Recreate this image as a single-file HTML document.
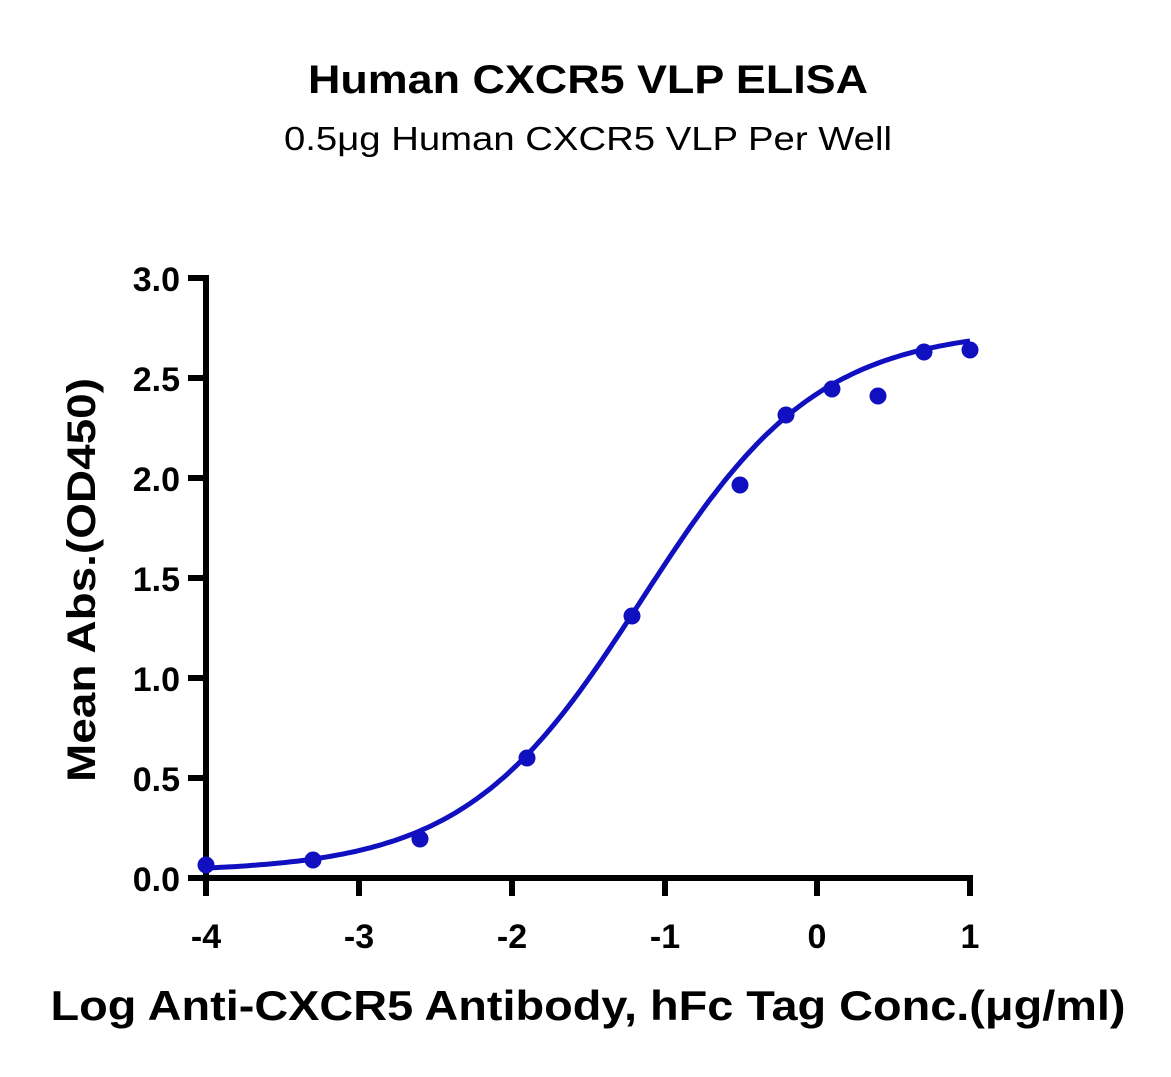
<!DOCTYPE html>
<html><head><meta charset="utf-8"><style>
body{margin:0;background:#fff;}
svg{display:block;}
text{font-family:"Liberation Sans",sans-serif;fill:#000;}
</style></head><body>
<svg id="s" width="1171" height="1077" xmlns="http://www.w3.org/2000/svg">
<text x="588" y="93" font-size="40" font-weight="bold" text-anchor="middle" textLength="560" lengthAdjust="spacingAndGlyphs">Human CXCR5 VLP ELISA</text>
<text x="588" y="150" font-size="33" text-anchor="middle" textLength="608" lengthAdjust="spacingAndGlyphs">0.5μg Human CXCR5 VLP Per Well</text>
<g stroke="#000" stroke-width="6" fill="none">
<line x1="206" y1="275" x2="206" y2="896"/>
<line x1="188" y1="878" x2="973" y2="878"/>
<line x1="188" y1="778" x2="206" y2="778"/>
<line x1="188" y1="678" x2="206" y2="678"/>
<line x1="188" y1="578" x2="206" y2="578"/>
<line x1="188" y1="478" x2="206" y2="478"/>
<line x1="188" y1="378" x2="206" y2="378"/>
<line x1="188" y1="278" x2="206" y2="278"/>
<line x1="359" y1="878" x2="359" y2="896"/>
<line x1="512" y1="878" x2="512" y2="896"/>
<line x1="665" y1="878" x2="665" y2="896"/>
<line x1="817" y1="878" x2="817" y2="896"/>
<line x1="970" y1="878" x2="970" y2="896"/>
</g>
<g font-size="34" font-weight="bold" text-anchor="end">
<text x="180" y="891">0.0</text><text x="180" y="791">0.5</text><text x="180" y="691">1.0</text>
<text x="180" y="591">1.5</text><text x="180" y="491">2.0</text><text x="180" y="391">2.5</text><text x="180" y="291">3.0</text>
</g>
<g font-size="34" font-weight="bold" text-anchor="middle">
<text x="206" y="948">-4</text><text x="359" y="948">-3</text><text x="512" y="948">-2</text>
<text x="665" y="948">-1</text><text x="817" y="948">0</text><text x="970" y="948">1</text>
</g>
<text x="588" y="1020" font-size="42" font-weight="bold" text-anchor="middle" textLength="1075" lengthAdjust="spacingAndGlyphs">Log Anti-CXCR5 Antibody, hFc Tag Conc.(μg/ml)</text>
<text transform="translate(95,580) rotate(-90)" font-size="40" font-weight="bold" text-anchor="middle" textLength="404" lengthAdjust="spacingAndGlyphs">Mean Abs.(OD450)</text>
<path id="c" fill="none" stroke="#1010c0" stroke-width="5"/>
<g fill="#1010c0">
<circle cx="206" cy="865" r="8.5"/><circle cx="313" cy="860" r="8.5"/><circle cx="420" cy="839" r="8.5"/>
<circle cx="527" cy="758" r="8.5"/><circle cx="632" cy="616" r="8.5"/><circle cx="740" cy="485" r="8.5"/>
<circle cx="786" cy="415" r="8.5"/><circle cx="832" cy="389" r="8.5"/><circle cx="878" cy="396" r="8.5"/>
<circle cx="924" cy="352" r="8.5"/><circle cx="970" cy="350" r="8.5"/>
</g>
</svg>
<script>
var d="",b=0.03,t=2.75,c=-1.15,h=0.75;
for(var i=0;i<=200;i++){var x=-4+5*i/200;var y=b+(t-b)/(1+Math.pow(10,(c-x)*h));
var px=206+(x+4)*152.8,py=878-y*200;d+=(i?"L":"M")+px.toFixed(1)+","+py.toFixed(1);}
document.getElementById("c").setAttribute("d",d);
</script>
</body></html>
